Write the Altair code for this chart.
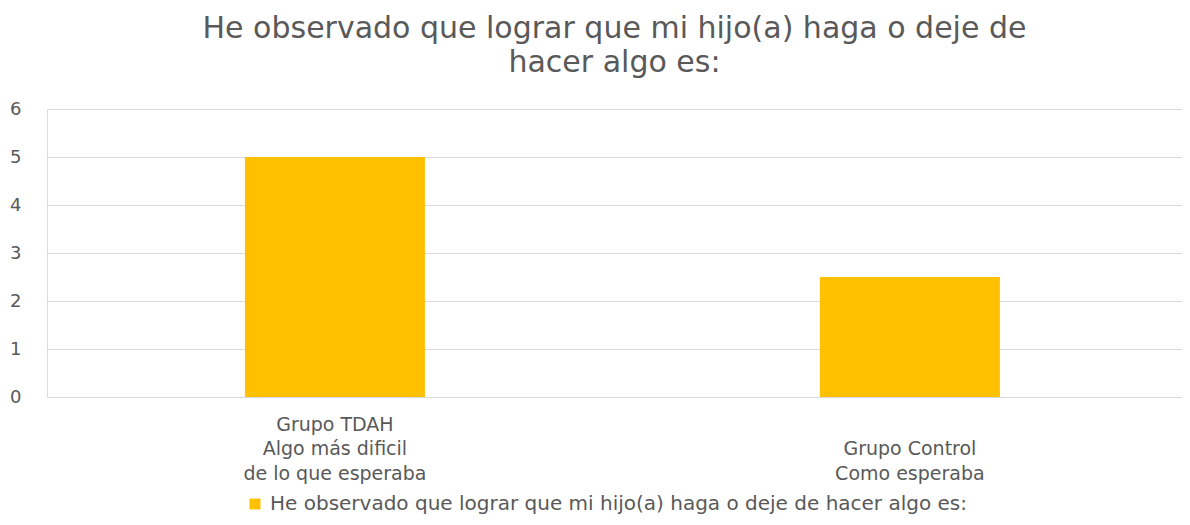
import altair as alt
import pandas as pd

categories = ["Grupo TDAH|Algo más dificil|de lo que esperaba", "Grupo Control|Como esperaba"]
values = [5, 2.5]
series_name = "He observado que lograr que mi hijo(a) haga o deje de hacer algo es:"
title_lines = ["He observado que lograr que mi hijo(a) haga o deje de", "hacer algo es:"]

df = pd.DataFrame({"cat": categories, "val": values, "serie": [series_name] * len(categories)})

FONT = "DejaVu Sans"
GRAY = "#595959"

# bottom-align the multi-line labels: pad shorter labels with empty leading lines
label_expr = ("length(split(datum.value, '|')) < 3 ? "
              "split('|' + datum.value, '|') : split(datum.value, '|')")

chart = alt.Chart(df).mark_bar(size=180).encode(
    x=alt.X("cat:N", sort=categories, title=None,
            scale=alt.Scale(paddingInner=0.5, paddingOuter=0.237, align=0.529),
            axis=alt.Axis(labelAngle=0, labelExpr=label_expr,
                          labelBaseline="alphabetic", labelPadding=33, labelLineHeight=24.5,
                          labelFont=FONT, labelFontSize=19, labelColor=GRAY,
                          ticks=False, domain=True, domainColor="#d9d9d9", grid=False,
                          labelLimit=400)),
    y=alt.Y("val:Q", title=None,
            scale=alt.Scale(domain=[0, 6], nice=False),
            axis=alt.Axis(values=[0, 1, 2, 3, 4, 5, 6], ticks=False, domain=False,
                          gridColor="#d9d9d9", gridWidth=1, labelFont=FONT, labelFontSize=18,
                          labelColor=GRAY, labelPadding=26)),
    color=alt.Color("serie:N", scale=alt.Scale(range=["#FFC000"]),
                    legend=alt.Legend(title=None, orient="none", legendX=198, legendY=385,
                                      symbolType="square", symbolSize=120, labelFont=FONT,
                                      labelFontSize=20, labelColor=GRAY, labelLimit=900,
                                      symbolStrokeWidth=0, labelOffset=5)),
).properties(
    width=1135,
    height=288,
    title=alt.TitleParams(title_lines, font=FONT, fontSize=30, fontWeight="normal",
                          color=GRAY, anchor="middle", lineHeight=34, offset=22),
    autosize=alt.AutoSizeParams(type="none"),
    padding={"left": 39, "top": 101, "right": 0, "bottom": 119},
).configure_view(stroke=None).configure(background="white")

chart.save("out.html", embed_options={"renderer": "svg", "actions": False})
